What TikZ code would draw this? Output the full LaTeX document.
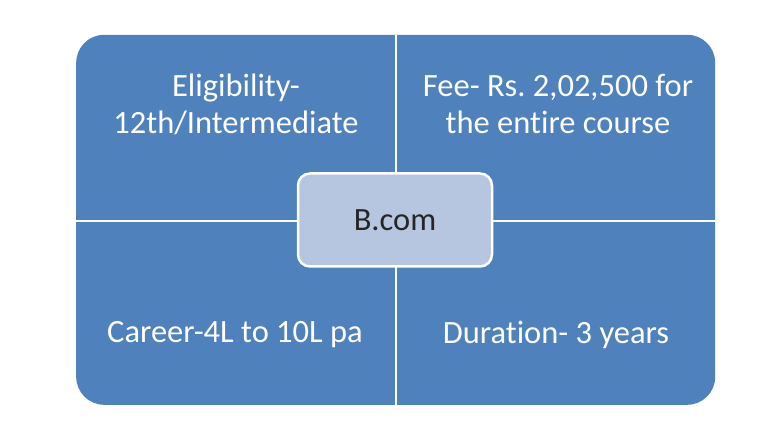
\documentclass[tikz,border=0pt]{standalone}
\usepackage{fontspec}
\setmainfont[Ligatures=NoCommon]{Carlito}
\frenchspacing
\definecolor{qblue}{HTML}{4F81BD}
\definecolor{cblue}{HTML}{B7C6E0}
\begin{document}
\begin{tikzpicture}[x=1pt,y=1pt,
  qtext/.style={text=white,font=\fontsize{32.5}{37}\selectfont,align=center,inner sep=0pt},
  divider/.style={draw=white,line width=2.5pt}]
\useasboundingbox (0,0) rectangle (768,436);
\fill[white] (0,0) rectangle (768,436);
% outer rounded block
\node[fill=qblue,rounded corners=28pt,minimum width=639pt,minimum height=370pt,inner sep=0pt,anchor=south west] (outer) at (76,31) {};
\coordinate (vt) at (396,401);
\coordinate (vb) at (396,31);
\coordinate (hl) at (76,215);
\coordinate (hr) at (715,215);
\draw[divider] (vt) -- (vb);
\draw[divider] (hl) -- (hr);
% texts
\node[qtext] (tl) at (236,332) {Eligibility-\\12th/Intermediate};
\node[qtext] (tr) at (558,332) {Fee- Rs. 2,02,500 for\\the entire course};
\node[qtext] (bl) at (235,101) {Career-4L to 10L pa};
\node[qtext] (br) at (556,101) {Duration- 3 years};
% center
\node[fill=cblue,draw=white,line width=2.5pt,rounded corners=12pt,minimum width=194pt,minimum height=93pt,
  text=black!85,font=\fontsize{32.5}{37}\selectfont] (center) at (395,216) {B.com};
\end{tikzpicture}
\end{document}
